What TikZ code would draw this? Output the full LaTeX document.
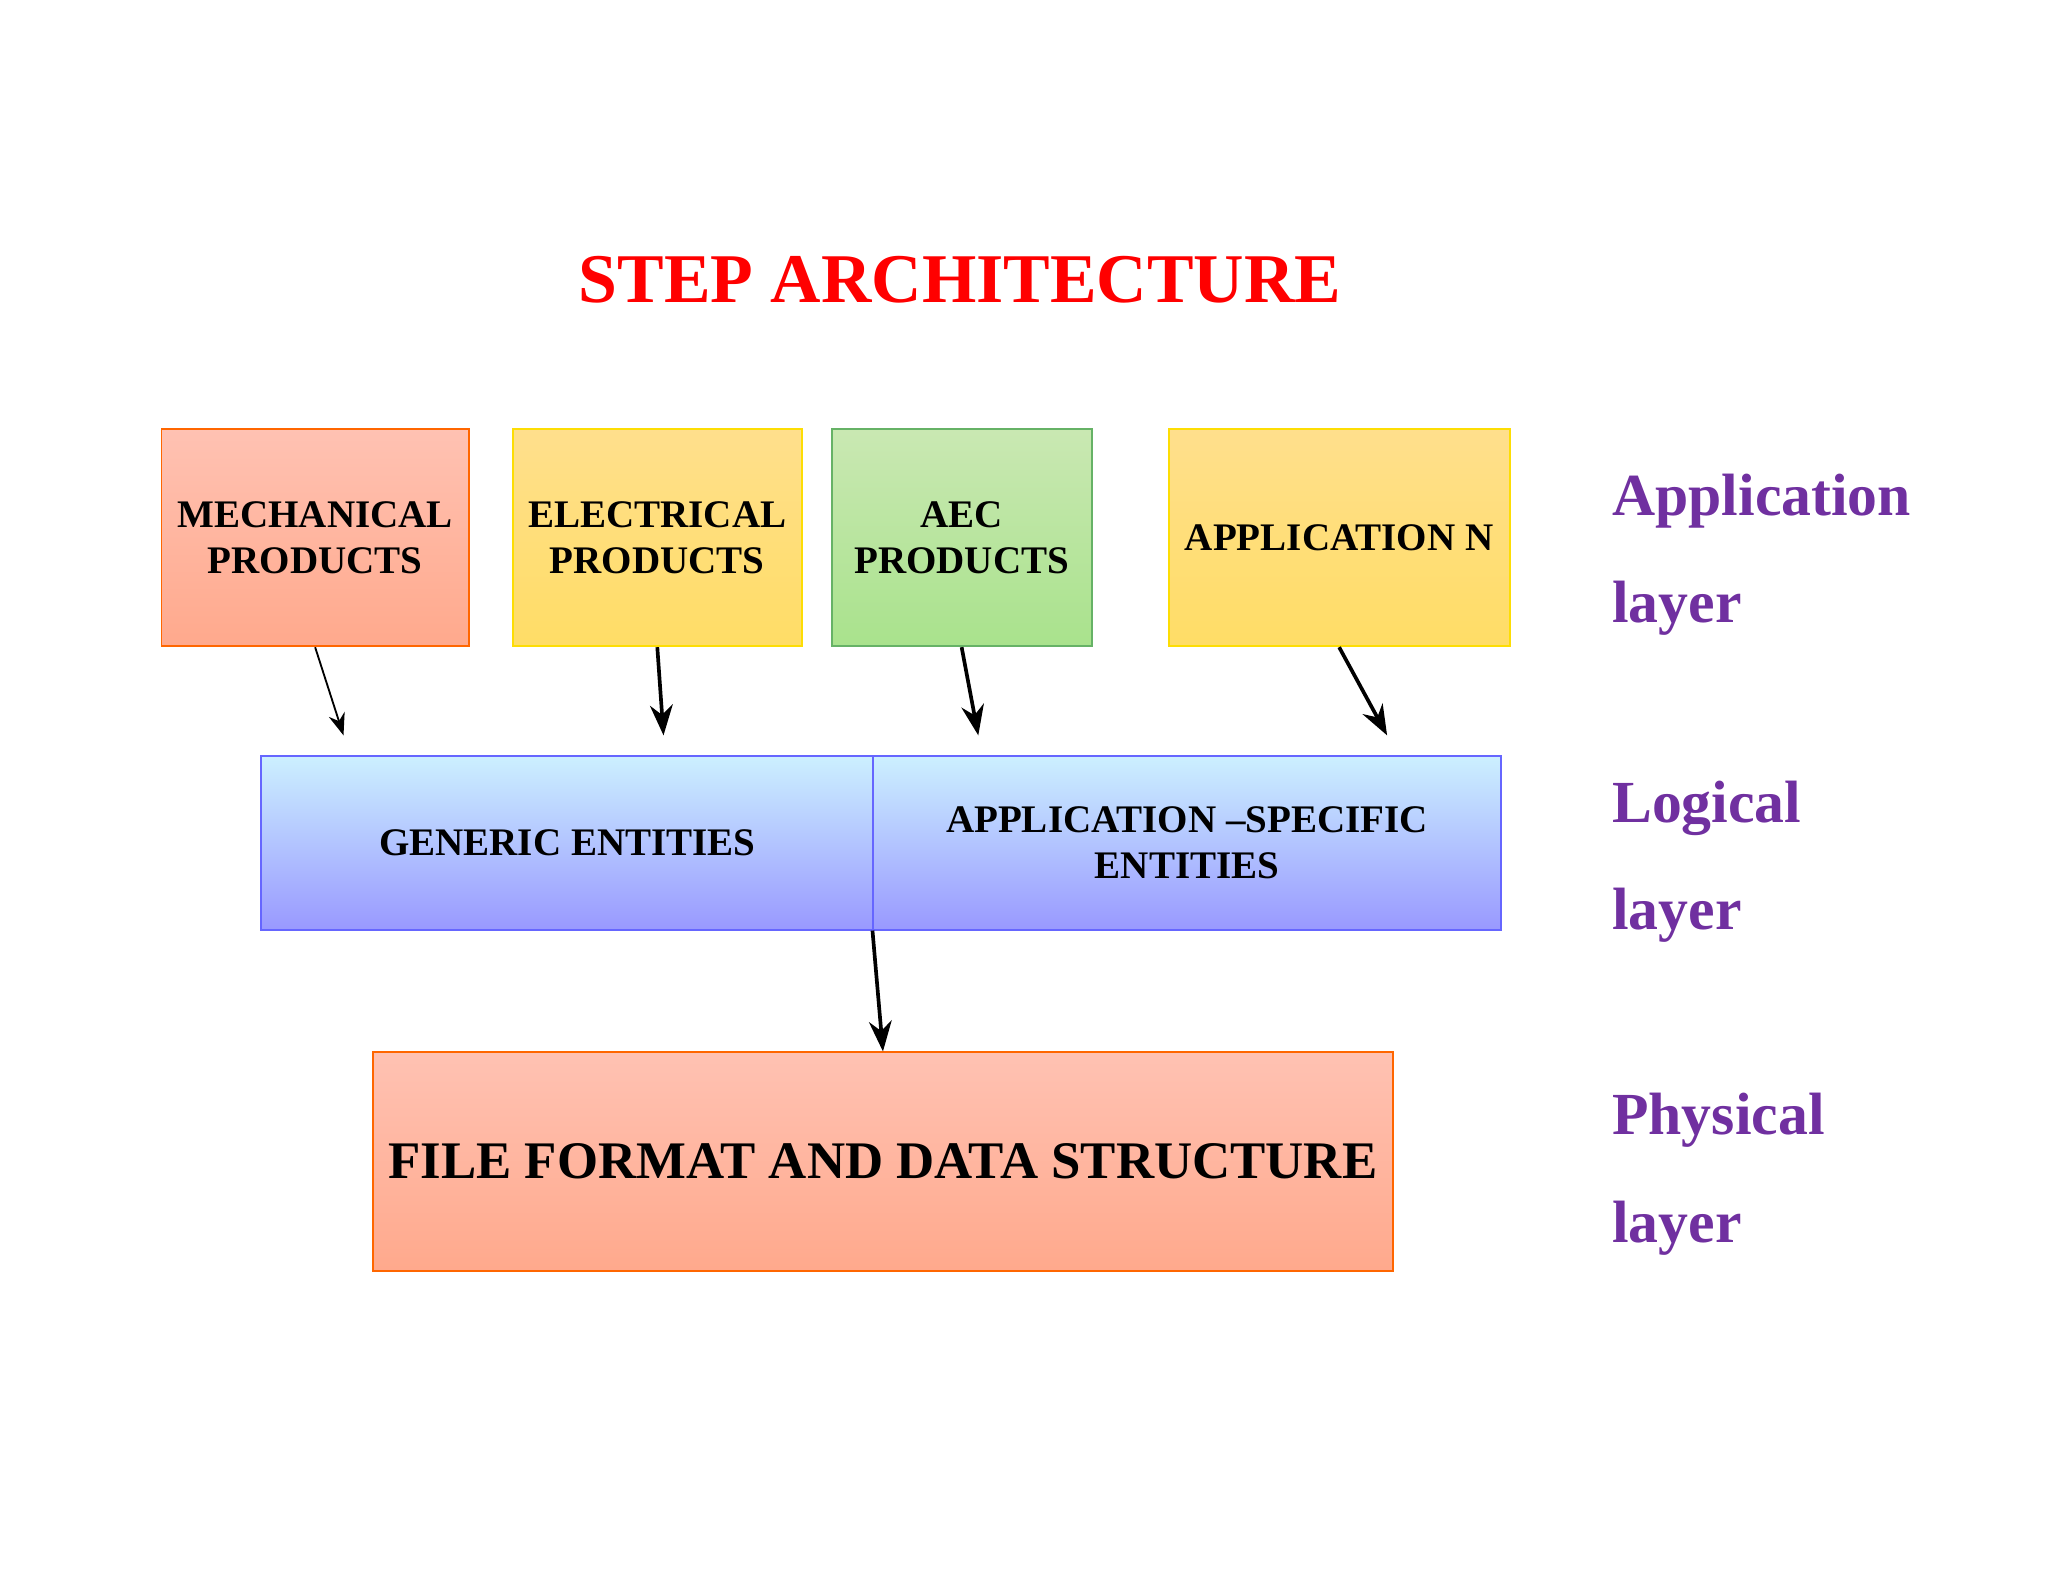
\documentclass[tikz,border=0pt]{standalone}
\usepackage{fontspec}
\setmainfont{Liberation Serif}
\usetikzlibrary{arrows.meta}
\definecolor{layerpurple}{RGB}{112,48,160}
\begin{document}
\begin{tikzpicture}[x=0.01cm, y=-0.01cm, >=Stealth, font=\bfseries]
    \tikzset{
        box/.style={draw, rectangle, anchor=north west, align=center, font=\bfseries\fontsize{8.5}{10}\selectfont},
        orangebox/.style={box, draw=orange!80!red, top color=orange!40!red!30, bottom color=orange!50!red!45},
        yellowbox/.style={box, draw=yellow!80!orange, top color=yellow!45!orange!45, bottom color=yellow!55!orange!60},
        greenbox/.style={box, draw=green!50!black!60, top color=green!40!olive!30, bottom color=green!50!olive!45},
        bluebox/.style={box, draw=blue!60, top color=blue!30!cyan!20!white, bottom color=blue!40!white},
        layer/.style={anchor=west, text=layerpurple, font=\bfseries\fontsize{13}{16}\selectfont},
        link/.style={->, thin}
    }
    \useasboundingbox (0,0) rectangle (1568,1211);

    \node[red, font=\bfseries\fontsize{15.2}{18}\selectfont] (title) at (735,214) {STEP ARCHITECTURE};

    \node[orangebox, minimum width=2.35cm, minimum height=1.66cm] (mech) at (123,328) {MECHANICAL\\PRODUCTS};
    \node[yellowbox, minimum width=2.18cm, minimum height=1.66cm] (elec) at (392,328) {ELECTRICAL\\PRODUCTS};
    \node[greenbox, minimum width=1.99cm, minimum height=1.66cm] (aec) at (636,328) {AEC\\PRODUCTS};
    \node[yellowbox, minimum width=2.61cm, minimum height=1.66cm] (appn) at (894,328) {APPLICATION N};

    \node[bluebox, minimum width=4.69cm, minimum height=1.33cm] (generic) at (199,578) {GENERIC ENTITIES};
    \node[bluebox, minimum width=4.80cm, minimum height=1.33cm] (specific) at (668,578) {APPLICATION --SPECIFIC\\ENTITIES};

    \node[orangebox, minimum width=7.62cm, minimum height=1.67cm, font=\bfseries\fontsize{11.5}{14}\selectfont] (file) at (285,805) {FILE FORMAT AND DATA STRUCTURE};

    \coordinate (m) at (263,563);
    \coordinate (e) at (508,563);
    \coordinate (a) at (749,563);
    \coordinate (n) at (1062,563);

    \draw[link] (mech.south) -- (m);
    \draw[link, thick] (elec.south) -- (e);
    \draw[link, thick] (aec.south) -- (a);
    \draw[link, thick] (appn.south) -- (n);
    \draw[link, thick] (specific.south west) -- (file.north);

    \node[layer] (l1) at (1222,384) {Application};
    \node[layer] (l1b) at (1222,466) {layer};
    \node[layer] (l2) at (1222,619) {Logical};
    \node[layer] (l2b) at (1222,701) {layer};
    \node[layer] (l3) at (1222,858) {Physical};
    \node[layer] (l3b) at (1222,940) {layer};
\end{tikzpicture}
\end{document}
